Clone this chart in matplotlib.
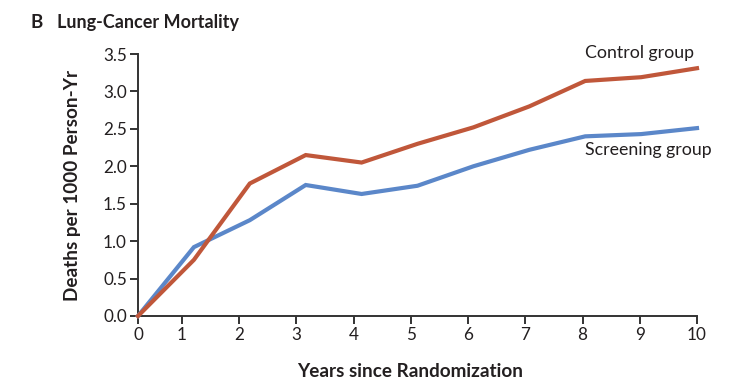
import matplotlib
matplotlib.use("Agg")
import matplotlib.pyplot as plt
import numpy as np

years = [0, 1, 2, 3, 4, 5, 6, 7, 8, 9, 10]
control = [0.0, 0.75, 1.77, 2.15, 2.05, 2.30, 2.52, 2.80, 3.14, 3.19, 3.31]
screening = [0.0, 0.92, 1.28, 1.75, 1.63, 1.74, 2.00, 2.22, 2.40, 2.43, 2.51]
tick_labels = ["0", "1", "2", "3", "4", "5", "6", "7", "8", "9", "10"]
y_ticks = [0.0, 0.5, 1.0, 1.5, 2.0, 2.5, 3.0, 3.5]

plt.rcParams['font.family'] = ['Lato', 'DejaVu Sans']

RED = "#C0573A"
BLUE = "#5B87C9"
TXT = "#231F20"
AX = "#333333"

fig = plt.figure(figsize=(7.36, 3.81), dpi=100)
ax = fig.add_axes([138/736, 1-316/381, (697-138)/736, (316-54)/381])

ax.plot(years, screening, color=BLUE, lw=3.0, solid_joinstyle='miter', clip_on=False, zorder=3)
ax.plot(years, control, color=RED, lw=3.0, solid_joinstyle='miter', clip_on=False, zorder=4)

ax.set_xlim(0, 10)
ax.set_ylim(0, 3.5)
# ticks in original figure: 0 at origin, 1..10 evenly spaced ending at 10
step = 10 / (9 + 0.766)
xt = [0] + [10 - (10 - k) * step for k in range(1, 11)]
ax.set_xticks(xt)
ax.set_xticklabels(tick_labels)
ax.set_yticks(y_ticks)
ax.set_yticklabels([f"{v:.1f}" for v in y_ticks])

for s in ["top", "right"]:
    ax.spines[s].set_visible(False)
for s in ["left", "bottom"]:
    ax.spines[s].set_color(AX)
    ax.spines[s].set_linewidth(1.4)
ax.tick_params(axis='both', colors=AX, width=1.4, length=6, labelsize=12.3, labelcolor=TXT, pad=2)

ax.set_xlabel("Years since Randomization", fontsize=13.6, fontweight='bold', color=TXT)
ax.xaxis.set_label_coords((410-138)/559, (316-363)/262)
ax.set_ylabel("Deaths per 1000 Person-Yr", fontsize=13.6, fontweight='bold', color=TXT)
ax.yaxis.set_label_coords((81-138)/559, 0.5)

fig.text(30/736, 1-28/381, "B", fontsize=13.5, fontweight='bold', color=TXT, va='baseline')
fig.text(57/736, 1-28/381, "Lung-Cancer Mortality", fontsize=13, fontweight='bold', color=TXT, va='baseline')

ax.text(8.0, 3.4, "Control group", fontsize=12.8, color=TXT, ha='left', va='bottom')
ax.text(8.0, 2.33, "Screening group", fontsize=12.8, color=TXT, ha='left', va='top')

fig.savefig("out.png", dpi=100, facecolor='white')
